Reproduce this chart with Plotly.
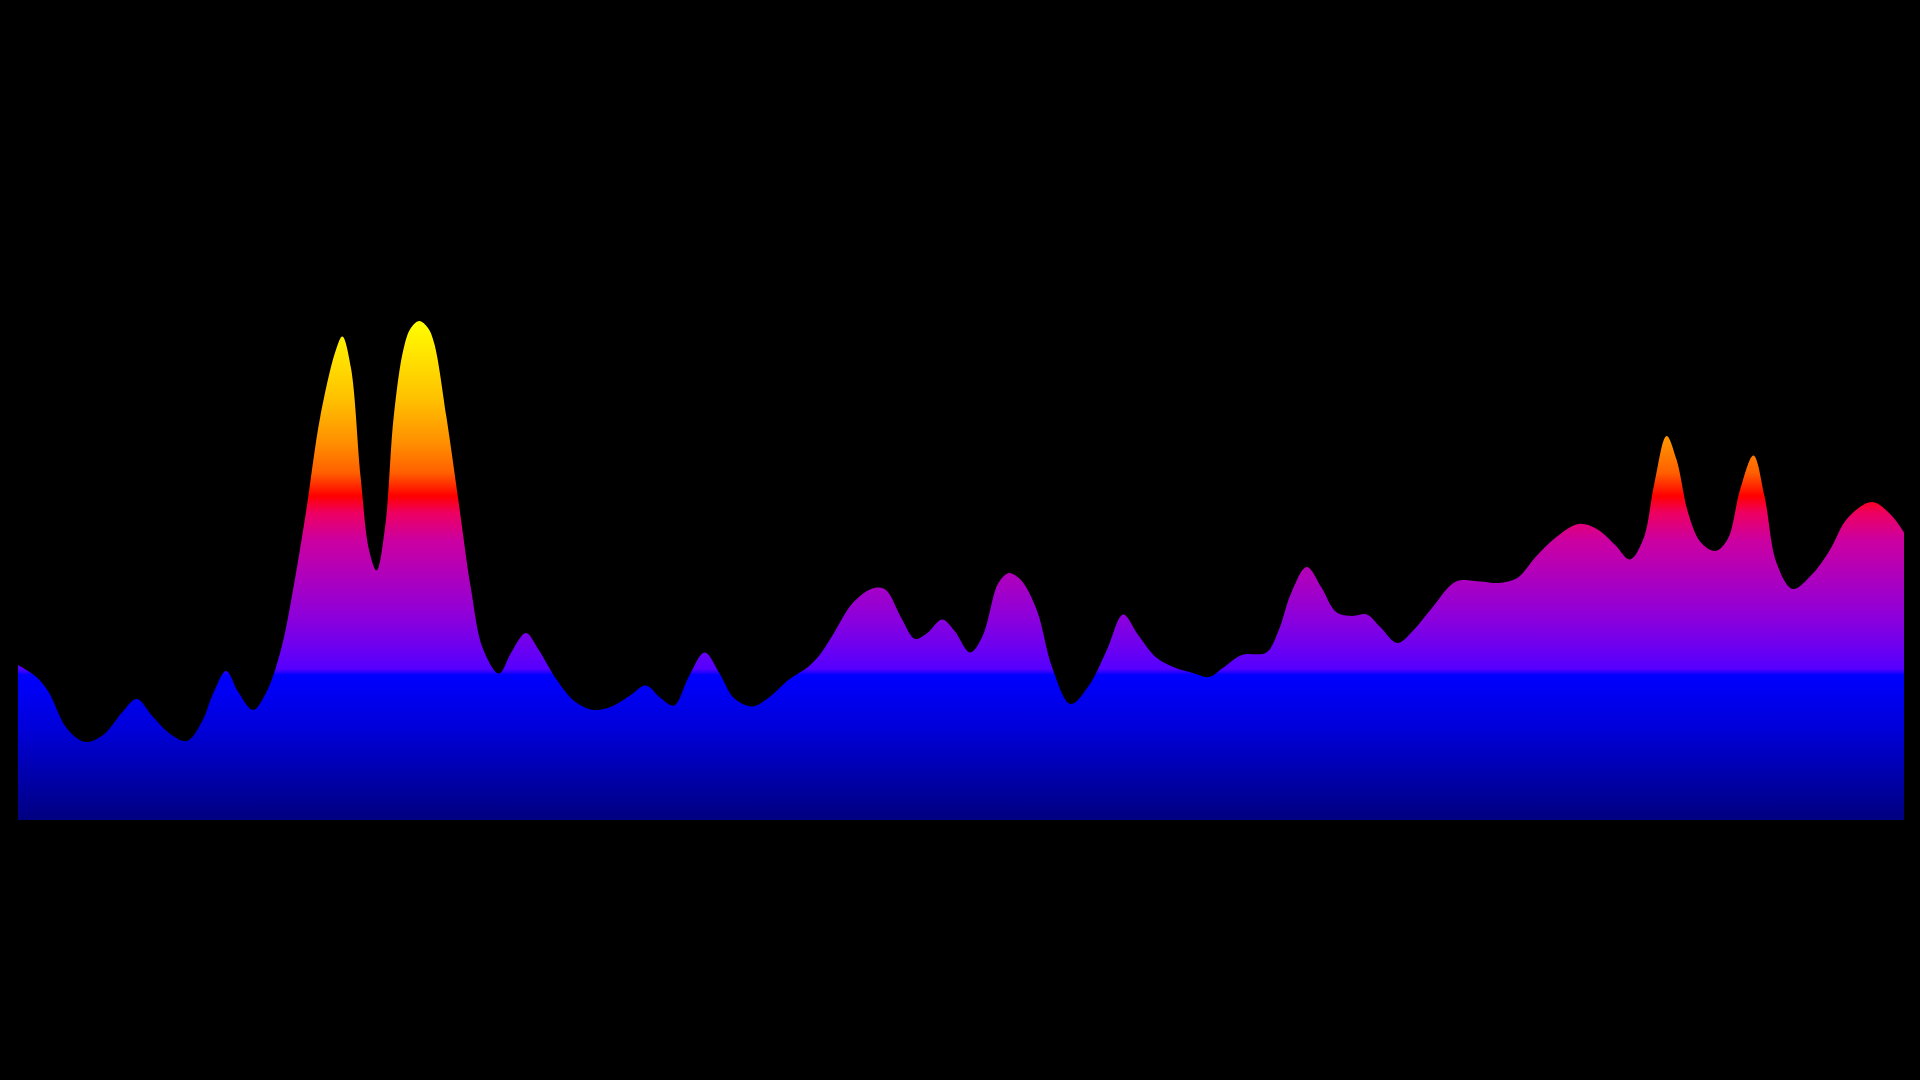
import plotly.graph_objects as go

# Positions along the horizontal axis (arbitrary sample units)
x_vals = [0, 15, 25, 40, 55, 70, 85, 97, 110, 125, 138, 150, 160, 170, 180, 192, 203, 215, 225, 235,
          247, 260, 265, 272, 280, 287, 293, 300, 307, 315, 321, 328, 335, 340, 350, 360, 370, 380, 393, 403, 415, 425,
          440, 455, 470, 485, 500, 513, 525, 536, 548, 561, 573, 585, 600, 613, 630, 645, 655, 665, 680, 690,
          697, 702, 708, 712, 722, 733, 743, 755, 765, 778, 788, 800, 806, 810, 815, 822, 833, 845, 860, 875, 890, 903, 915, 930,
          945, 960, 973, 985, 1000, 1020, 1030, 1040, 1053, 1065, 1077, 1090, 1102, 1113, 1127, 1140, 1155, 1175, 1195, 1210,
          1225, 1240, 1255, 1275, 1290, 1305, 1317, 1328, 1337, 1347, 1355, 1365, 1375, 1387, 1397, 1407, 1418, 1427, 1437, 1450,
          1465, 1480, 1495, 1515, 1530, 1541]

# Series values
y_vals = [31.0, 28.6, 25.6, 18.3, 15.6, 17.1, 21.5, 24.2, 20.7, 17.1, 15.8, 19.5, 25.6, 29.8, 25.6, 22.0, 25.6, 34.2, 46.4, 61.1,
          80.7, 94.2, 96.7, 90.5, 68.5, 53.8, 49.9, 58.7, 80.7, 94.2, 98.4, 99.8, 98.4, 95.4, 80.7, 63.6, 46.4, 34.2, 29.3, 33.5, 37.4, 34.2,
          28.1, 23.7, 22.0, 22.7, 24.9, 26.9, 24.4, 22.9, 28.6, 33.5, 29.4, 24.4, 22.7, 24.4, 28.1, 30.5, 33.0, 36.7, 42.8, 45.2,
          46.2, 46.5, 46.2, 45.2, 40.3, 36.2, 37.4, 40.1, 37.9, 33.5, 36.7, 46.9, 48.9, 49.4, 48.9, 47.2, 41.6, 30.5, 23.2, 26.9, 34.2, 41.1, 37.1, 32.5,
          30.5, 29.4, 28.6, 30.5, 33.0, 33.5, 37.9, 45.2, 50.6, 46.5, 41.6, 40.8, 41.1, 38.6, 35.4, 37.9, 42.3, 47.7, 47.7, 47.4,
          48.4, 52.6, 56.2, 59.2, 58.2, 55.0, 52.1, 56.2, 67.3, 76.8, 72.2, 61.1, 55.5, 53.8, 56.2, 66.0, 72.9, 64.8, 51.3, 46.2,
          48.9, 53.8, 60.4, 63.6, 61.1, 57.5]

gradient_scale = [
    [0.00, "#000080"],
    [0.18, "#0000d8"],
    [0.29, "#0000ff"],
    [0.302, "#5500ff"],
    [0.40, "#8a00dd"],
    [0.50, "#b400b8"],
    [0.56, "#cc00a0"],
    [0.615, "#ee0060"],
    [0.648, "#ff0000"],
    [0.695, "#ff6000"],
    [0.75, "#ff8c00"],
    [0.84, "#ffc000"],
    [1.00, "#ffff00"],
]

fig = go.Figure(go.Scatter(
    x=x_vals, y=y_vals,
    mode="lines",
    line=dict(shape="spline", smoothing=1.0, width=0, color="rgba(0,0,0,0)"),
    fill="tozeroy",
    fillgradient=dict(type="vertical", colorscale=gradient_scale, start=0, stop=100),
    hoverinfo="skip",
))

fig.update_layout(
    width=1920, height=1080,
    paper_bgcolor="black", plot_bgcolor="black",
    margin=dict(l=18, r=16, t=270, b=260),
    showlegend=False,
    xaxis=dict(visible=False, range=[0, 1541], fixedrange=True),
    yaxis=dict(visible=False, range=[0, 110], fixedrange=True),
)

fig.write_html(
    "out.html",
    config={"displayModeBar": False},
    post_script="document.body.style.margin='0';document.body.style.background='black';document.documentElement.style.background='black';",
)
